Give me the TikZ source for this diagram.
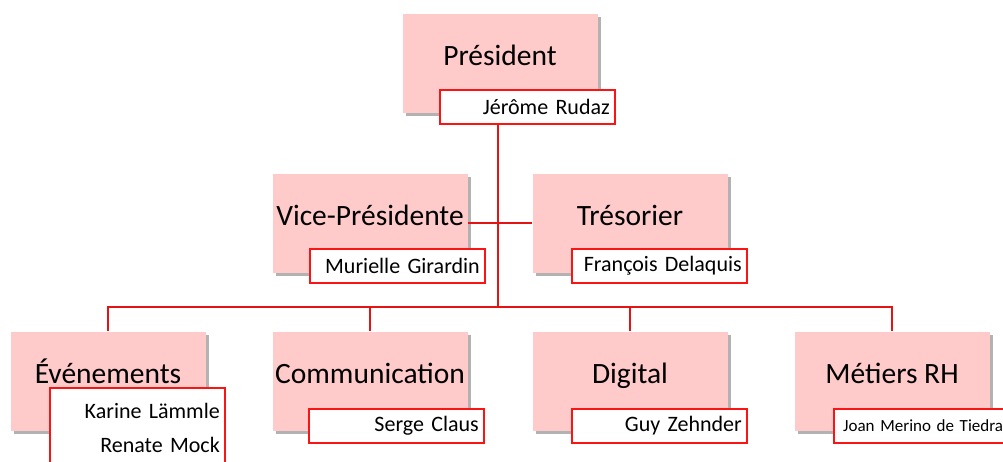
\documentclass[tikz,border=0pt]{standalone}
\usepackage{fontspec}
\setmainfont{Carlito}
\usepackage{xcolor}
\usepackage{tikz}
\usetikzlibrary{calc,shadows}
\definecolor{boxpink}{RGB}{255,202,202}
\definecolor{linered}{RGB}{228,20,20}
\definecolor{namered}{RGB}{250,20,20}
\tikzstyle{centered} = [align=center, text centered]
\tikzstyle{post} = [centered, fill=boxpink, minimum width=195pt, minimum height=99pt, inner sep=0pt, font=\fontsize{29.5}{34}\selectfont, text height=19pt, text depth=15pt, drop shadow={shadow xshift=3pt, shadow yshift=-3pt, fill=black!60}]
\tikzstyle{person} = [draw=namered, fill=white, line width=1.8pt, minimum height=34pt, text width=165pt, align=right, inner xsep=5pt, font=\fontsize{22}{34}\selectfont]
\tikzstyle{conn} = [draw=linered, line width=1.5pt]

\begin{document}
\begin{tikzpicture}
            [x=1pt,y=-1pt]
              \useasboundingbox (0,0) rectangle (1003,461);
              \node [post](pres) at (500,63) {Président};
              \node [post](vp) at (370,223) {Vice-Présidente};
              \node [post](tres) at (630,223) {Trésorier};
              \node [post](evt) at (108,381) {Événements};
              \node [post](comm) at (370,381) {Communication};
              \node [post](dig) at (630,381) {Digital};
              \node [post](rh) at (892,381) {Métiers RH};
              % people
              \node [person, anchor=south east](presn) at ($(pres.south east)+(18,12)$) {Jérôme Rudaz};
              \node [person, anchor=south east](vpn) at ($(vp.south east)+(18,11)$) {Murielle Girardin};
              \node [person, anchor=south east](tresn) at ($(tres.south east)+(20,11)$) {François Delaquis};
              \node [person, anchor=north east, minimum height=80pt](evtn) at ($(evt.south east)+(20,-44)$) {Karine Lämmle\\Renate Mock};
              \node [person, anchor=south east](commn) at ($(comm.south east)+(17,13)$) {Serge Claus};
              \node [person, anchor=south east](dign) at ($(dig.south east)+(20,13)$) {Guy Zehnder};
              \node [person, anchor=south west, align=left, text width=200pt, inner xsep=9pt, font=\fontsize{17}{34}\selectfont](rhn) at ($(rh.south west)+(39,13)$) {Joan Merino de Tiedra};
              \coordinate (bus) at (498,307);

              \draw [conn] (presn.south -| bus) -- (bus);
              \draw [conn] (vp.east) -- (tres.west);
              \draw [conn] (evt.north) |- (bus) -| (rh.north);
              \draw [conn] (comm.north) -- (comm.north |- bus);
              \draw [conn] (dig.north) -- (dig.north |- bus);
            \end{tikzpicture}
\end{document}
